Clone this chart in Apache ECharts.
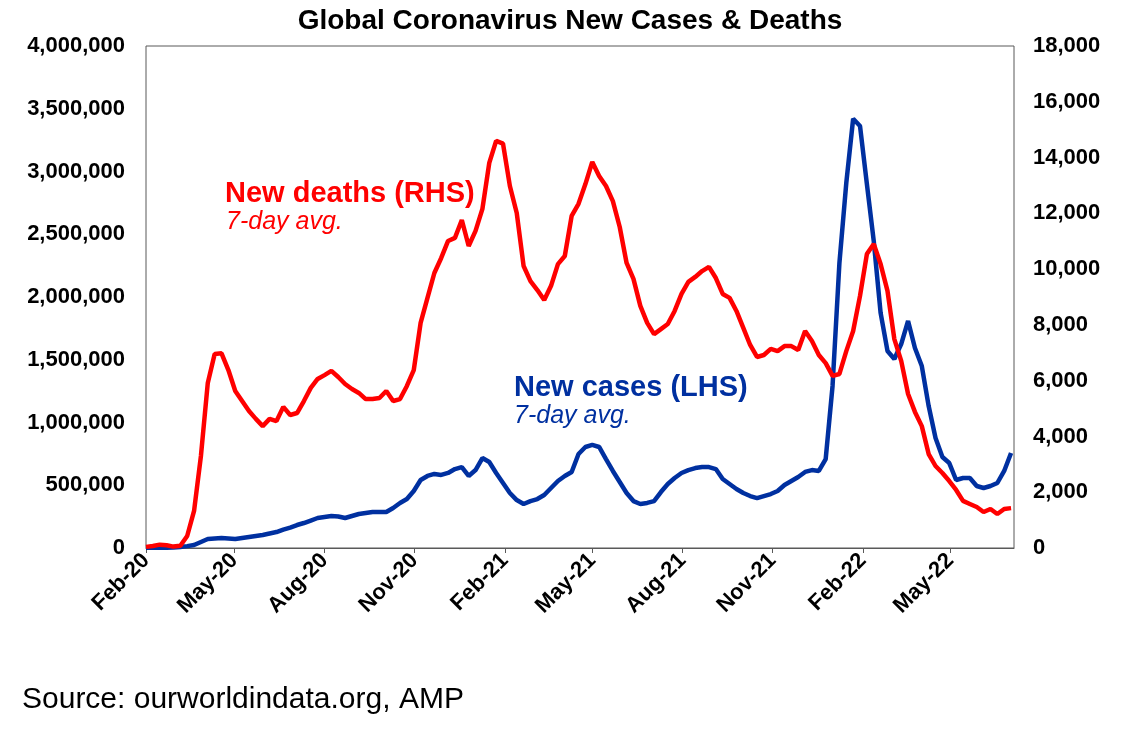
<!DOCTYPE html>
<html>
<head>
<meta charset="utf-8">
<title>Global Coronavirus New Cases & Deaths</title>
<script src="https://cdn.jsdelivr.net/npm/echarts@6/dist/echarts.min.js"></script>
<style>
    html, body { margin: 0; padding: 0; background: #fff; }
    #chart { width: 1122px; height: 738px; }
</style>
</head>
<body>
<div id="chart"></div>
<script>
// weekly samples from 1 Feb 2020
var firstWeek = [2020, 1, 1];
var monthNames = ["Jan", "Feb", "Mar", "Apr", "May", "Jun", "Jul", "Aug", "Sep", "Oct", "Nov", "Dec"];
var tickMonths = ["2020-02", "2020-05", "2020-08", "2020-11", "2021-02", "2021-05", "2021-08", "2021-11", "2022-02", "2022-05"];

// new deaths, 7-day avg (right axis)
var newDeaths = [
    40, 70, 120, 100, 50, 80, 430, 1330, 3300, 5920,
    6960, 6980, 6380, 5630, 5270, 4910, 4630, 4370, 4630, 4550,
    5060, 4770, 4840, 5270, 5740, 6060, 6200, 6350, 6130, 5880,
    5700, 5560, 5340, 5340, 5380, 5630, 5270, 5340, 5810, 6380,
    8070, 8970, 9860, 10400, 11010, 11120, 11760, 10830, 11370, 12160,
    13810, 14600, 14500, 12980, 12010, 10110, 9570, 9250, 8890, 9400,
    10180, 10470, 11910, 12340, 13050, 13840, 13340, 12980, 12440, 11510,
    10220, 9650, 8680, 8070, 7670, 7850, 8030, 8500, 9110, 9540,
    9720, 9930, 10080, 9680, 9110, 8970, 8500, 7890, 7280, 6850,
    6920, 7140, 7060, 7240, 7240, 7100, 7780, 7420, 6920, 6630,
    6170, 6240, 7060, 7780, 9040, 10540, 10900, 10180, 9220, 7490,
    6710, 5520, 4880, 4370, 3370, 2940, 2690, 2400, 2080, 1690,
    1580, 1470, 1290, 1400, 1220, 1400, 1430
];

// new cases, 7-day avg (left axis)
var newCases = [
    2000, 2000, 2000, 1500, 3000, 8000, 15000, 24000, 48000, 72000,
    76000, 80000, 76000, 72000, 80000, 88000, 96000, 104000, 116000, 127000,
    147000, 163000, 183000, 199000, 219000, 239000, 247000, 255000, 251000, 239000,
    255000, 271000, 279000, 287000, 287000, 287000, 319000, 359000, 390000, 454000,
    542000, 574000, 590000, 582000, 598000, 629000, 645000, 574000, 621000, 717000,
    685000, 598000, 518000, 438000, 382000, 351000, 374000, 390000, 422000, 478000,
    534000, 574000, 606000, 749000, 805000, 821000, 805000, 709000, 614000, 526000,
    438000, 374000, 351000, 359000, 374000, 446000, 510000, 558000, 598000, 621000,
    637000, 645000, 645000, 629000, 550000, 510000, 470000, 438000, 414000, 398000,
    414000, 430000, 454000, 502000, 534000, 566000, 606000, 621000, 614000, 709000,
    1291000, 2271000, 2908000, 3420000, 3363000, 2900000, 2446000, 1873000, 1570000, 1506000,
    1625000, 1809000, 1594000, 1450000, 1131000, 876000, 725000, 677000, 542000, 558000,
    558000, 494000, 478000, 494000, 518000, 614000, 757000
];

var chart = echarts.init(document.getElementById("chart"));

function weekDate(i)
{
    return new Date(firstWeek[0], firstWeek[1], firstWeek[2] + i * 7).getTime();
}

function monthStart(key)
{
    var parts = key.split("-");
    return new Date(+parts[0], +parts[1] - 1, 1).getTime();
}

function pairs(values)
{
    return values.map(function(v, i) { return [weekDate(i), v]; });
}

function thousands(v)
{
    return String(v).replace(/\B(?=(\d{3})+(?!\d))/g, ",");
}

function monthLabel(v)
{
    var d = new Date(v);
    return monthNames[d.getMonth()] + "-" + String(d.getFullYear()).slice(2);
}

var tickValues = tickMonths.map(monthStart);
var font = "Liberation Sans, Arial, sans-serif";

var option = {
    animation: false,
    backgroundColor: "#fff",
    textStyle: { fontFamily: font },
    title: {
        text: "Global Coronavirus New Cases & Deaths",
        left: 565,
        top: 2,
        textAlign: "center",
        textStyle: { fontSize: 28, fontWeight: "bold", color: "#000", fontFamily: font }
    },
    grid: {
        left: 146,
        right: 108,
        top: 46,
        bottom: 190,
        show: true,
        borderColor: "#595959",
        borderWidth: 1,
        backgroundColor: "#fff"
    },
    xAxis: {
        // dates kept as timestamps on a plain value axis so the ticks can sit on month starts
        type: "value",
        min: new Date(2020, 1, 1).getTime(),
        max: new Date(2022, 6, 5).getTime(),
        splitLine: { show: false },
        axisLine: { show: true, lineStyle: { color: "#595959", width: 1 } },
        axisTick: { show: true, length: 5, lineStyle: { color: "#595959" }, customValues: tickValues },
        axisLabel: {
            customValues: tickValues,
            formatter: monthLabel,
            rotate: 45,
            margin: 9,
            color: "#000",
            fontSize: 22,
            fontWeight: "bold",
            fontFamily: font
        }
    },
    yAxis: [
        {
            type: "value",
            min: 0,
            max: 4000000,
            interval: 500000,
            splitLine: { show: false },
            axisLine: { show: false },
            axisTick: { show: false },
            axisLabel: { formatter: thousands, margin: 21, color: "#000", fontSize: 22, fontWeight: "bold", fontFamily: font }
        },
        {
            type: "value",
            min: 0,
            max: 18000,
            interval: 2000,
            position: "right",
            splitLine: { show: false },
            axisLine: { show: false },
            axisTick: { show: false },
            axisLabel: { formatter: thousands, margin: 19, color: "#000", fontSize: 22, fontWeight: "bold", fontFamily: font }
        }
    ],
    series: [
        {
            name: "New cases (LHS)",
            type: "line",
            yAxisIndex: 0,
            showSymbol: false,
            data: pairs(newCases),
            lineStyle: { color: "#0030A0", width: 4.5 },
            itemStyle: { color: "#0030A0" }
        },
        {
            name: "New deaths (RHS)",
            type: "line",
            yAxisIndex: 1,
            showSymbol: false,
            data: pairs(newDeaths),
            lineStyle: { color: "#FF0000", width: 4.5 },
            itemStyle: { color: "#FF0000" }
        }
    ],
    graphic: [
        { type: "text", left: 225, top: 179, style: { text: "New deaths (RHS)", fill: "#FF0000", font: "bold 29px " + font } },
        { type: "text", left: 226, top: 210, style: { text: "7-day avg.", fill: "#FF0000", font: "italic 25px " + font } },
        { type: "text", left: 514, top: 373, style: { text: "New cases (LHS)", fill: "#0030A0", font: "bold 29px " + font } },
        { type: "text", left: 514, top: 404, style: { text: "7-day avg.", fill: "#0030A0", font: "italic 25px " + font } },
        { type: "text", left: 22, top: 685, style: { text: "Source: ourworldindata.org, AMP", fill: "#000", font: "30px " + font } }
    ]
};

chart.setOption(option);
</script>
</body>
</html>
